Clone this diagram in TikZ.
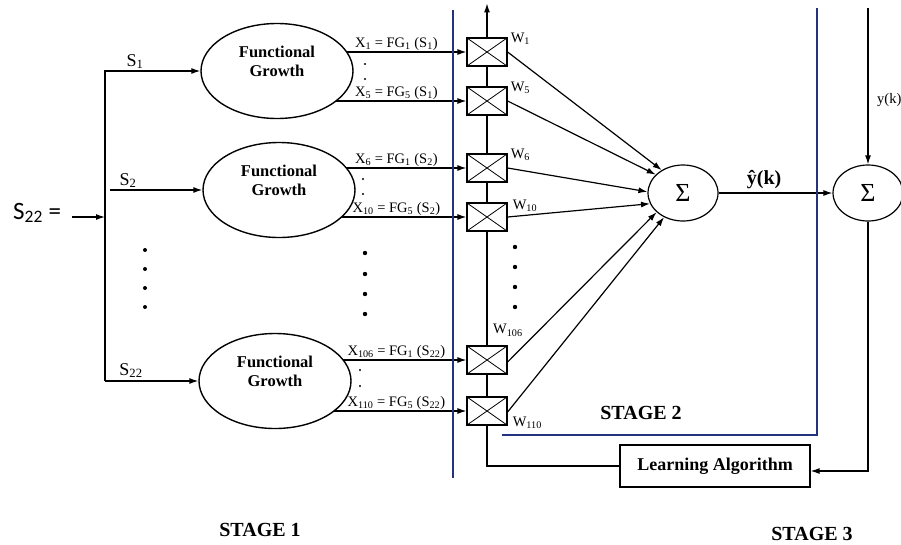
\documentclass[tikz,border=0pt]{standalone}
\usepackage{fontspec}
\setmainfont{Liberation Serif}
\newfontfamily\calibri{Carlito}
\usetikzlibrary{arrows.meta,positioning,shapes.geometric,backgrounds}
\definecolor{navy}{HTML}{22337F}
\tikzset{
  >={Latex[length=9pt,width=6pt]},
  wire/.style={line width=1.2pt},
  flow/.style={->,wire},
  stageline/.style={line width=2pt,draw=navy},
  fgnode/.style={ellipse,draw,line width=1.4pt,fill=white,minimum width=152pt,minimum height=95pt},
  fgtext/.style={align=center,font=\fontsize{16.5}{19}\selectfont\bfseries},
  crossbox/.style={draw,line width=1.2pt,fill=white,inner sep=0pt,minimum width=40pt,minimum height=28pt,
    path picture={\draw[line width=0.8pt] (path picture bounding box.north west)--(path picture bounding box.south east)
      (path picture bounding box.south west)--(path picture bounding box.north east);}},
  sumnode/.style={ellipse,draw,line width=1.2pt,fill=white,minimum width=70pt,minimum height=56pt,
    inner sep=0pt,font=\fontsize{26}{26}\selectfont},
  xlab/.style={font=\fontsize{14.5}{14.5}\selectfont,inner sep=1pt,anchor=south},
  wlab/.style={font=\fontsize{14.5}{14.5}\selectfont,inner sep=1pt},
  slab/.style={font=\fontsize{18}{18}\selectfont,inner sep=1pt,anchor=south},
  stagelab/.style={font=\fontsize{20}{20}\selectfont\bfseries},
  learnbox/.style={draw,line width=1.2pt,minimum width=190pt,minimum height=42pt,
    font=\fontsize{18}{18}\selectfont\bfseries}
}

\begin{document}
\begin{tikzpicture}[x=1pt,y=-1pt]
  \useasboundingbox (0,0) rectangle (901,544);
  % stage 1: functional growth
  \node[anchor=base west,inner sep=1pt,font=\calibri\fontsize{25}{25}\selectfont] (sin) at (12,219) {S\textsubscript{22} =};
  \coordinate (busin) at (105,217);
  \coordinate (busbot) at (105,381);
  \draw[flow] ([xshift=10pt]sin.east |- busin) -- (busin);
  \node[fgnode] (fg1) at (277,71) {};
  \node[fgnode] (fg2) at (279,190) {};
  \node[fgnode] (fg3) at (275,381) {};
  \node[fgtext] at ([yshift=10pt]fg1.center) {Functional\\Growth};
  \node[fgtext] at ([yshift=10pt]fg2.center) {Functional\\Growth};
  \node[fgtext] at ([yshift=10pt]fg3.center) {Functional\\Growth};
  \draw[flow] (busbot) |- (fg1.west);
  \draw[flow] (110,190) -- (fg2.west);
  \draw[flow] (busbot) -- (fg3.west);
  \node[slab] at (135,70) {S\textsubscript{1}};
  \node[slab] at (128,189) {S\textsubscript{2}};
  \node[slab] at (131,379) {S\textsubscript{22}};
  % weights
  \node[crossbox] (b1) at (487,52) {};
  \node[crossbox] (b2) at (487,101) {};
  \node[crossbox] (b3) at (487,168) {};
  \node[crossbox] (b4) at (487,217) {};
  \node[crossbox] (b5) at (487,360) {};
  \node[crossbox] (b6) at (487,411) {};
  \begin{scope}[on background layer]
    \draw[flow] (fg1.center |- b1.west) -- (b1.west);
    \draw[flow] (fg1.center |- b2.west) -- (b2.west);
    \draw[flow] (fg2.center |- b3.west) -- (b3.west);
    \draw[flow] (fg2.center |- b4.west) -- (b4.west);
    \draw[flow] (fg3.center |- b5.west) -- (b5.west);
    \draw[flow] (fg3.center |- b6.west) -- (b6.west);
  \end{scope}
  \node[xlab] at ([xshift=-70pt]b1.west) {X\textsubscript{1} = FG\textsubscript{1} (S\textsubscript{1})};
  \node[xlab] at ([xshift=-70pt]b2.west) {X\textsubscript{5} = FG\textsubscript{5} (S\textsubscript{1})};
  \node[xlab] at ([xshift=-70pt]b3.west) {X\textsubscript{6} = FG\textsubscript{1} (S\textsubscript{2})};
  \node[xlab] at ([xshift=-70pt]b4.west) {X\textsubscript{10} = FG\textsubscript{5} (S\textsubscript{2})};
  \node[xlab] at ([xshift=-70pt]b5.west) {X\textsubscript{106} = FG\textsubscript{1} (S\textsubscript{22})};
  \node[xlab] at ([xshift=-70pt]b6.west) {X\textsubscript{110} = FG\textsubscript{5} (S\textsubscript{22})};
  \fill (365,64) circle (1.2) (365,79) circle (1.2) (363,179) circle (1.2) (363,194) circle (1.2)
    (360,370) circle (1.2) (360,386) circle (1.2);
  \fill (145,250) circle (2) (145,269) circle (2) (145,288) circle (2) (145,307) circle (2);
  \fill (365,253) circle (2.2) (365,274) circle (2.2) (365,294) circle (2.2) (365,314) circle (2.2);
  \fill (515,247) circle (2.2) (515,267) circle (2.2) (515,287) circle (2.2) (515,307) circle (2.2);
  \node[wlab,anchor=west] at ([xshift=2pt,yshift=-1pt]b1.north east) {W\textsubscript{1}};
  \node[wlab,anchor=west] at ([xshift=2pt,yshift=-1pt]b2.north east) {W\textsubscript{5}};
  \node[wlab,anchor=west] at ([xshift=2pt,yshift=-1pt]b3.north east) {W\textsubscript{6}};
  \node[wlab,anchor=west] at ([xshift=4pt,yshift=-3pt]b4.north east) {W\textsubscript{10}};
  \node[wlab,anchor=south west] at ([xshift=5pt,yshift=8pt]b5.north) {W\textsubscript{106}};
  \node[wlab,anchor=west] at ([xshift=4pt,yshift=3pt]b6.south east) {W\textsubscript{110}};
  % stage 2: weighted sum
  \node[sumnode] (s1) at (683,193) {Σ};
  \draw[flow] (b1.east) -- (s1.133);
  \draw[flow] (b2.east) -- (s1.146);
  \draw[flow] (b3.east) -- (s1.178);
  \draw[flow] (b4.east) -- (s1.198);
  \draw[flow] ([yshift=-2pt]b5.east) -- (s1.216);
  \draw[flow] ([yshift=-1pt]b6.east) -- (s1.232);
  \draw[->,wire] (b1.north) -- ++(0,-34);
  \draw[wire] (b1.south) -- (b2.north) (b2.south) -- (b3.north) (b3.south) -- (b4.north)
    (b4.south) -- (b5.north) (b5.south) -- (b6.north);
  % stage 3: error and learning
  \node[sumnode] (s2) at (868,193) {Σ};
  \draw[flow] (s1.east) -- node[pos=0.4,above,font=\fontsize{20}{20}\selectfont\bfseries] {ŷ(k)} (s2.west);
  \coordinate (ytop) at (868,8);
  \draw[flow] (ytop) -- (s2.north);
  \node[wlab,anchor=west] at (876,100) {y(k)};
  \node[learnbox] (learn) at (715,466) {Learning Algorithm};
  \draw[flow] (s2.south) |- ([yshift=-5pt]learn.east);
  \draw[wire] (b6.south) |- (learn.west);
  % stage borders
  \draw[stageline] (453,10) -- (453,478);
  \draw[stageline] (817,8) -- (817,435) -- (502,435);
  \node[stagelab] at (260,530) {STAGE 1};
  \node[stagelab] at (641,413) {STAGE 2};
  \node[stagelab] at (812,534) {STAGE 3};
\end{tikzpicture}
\end{document}
